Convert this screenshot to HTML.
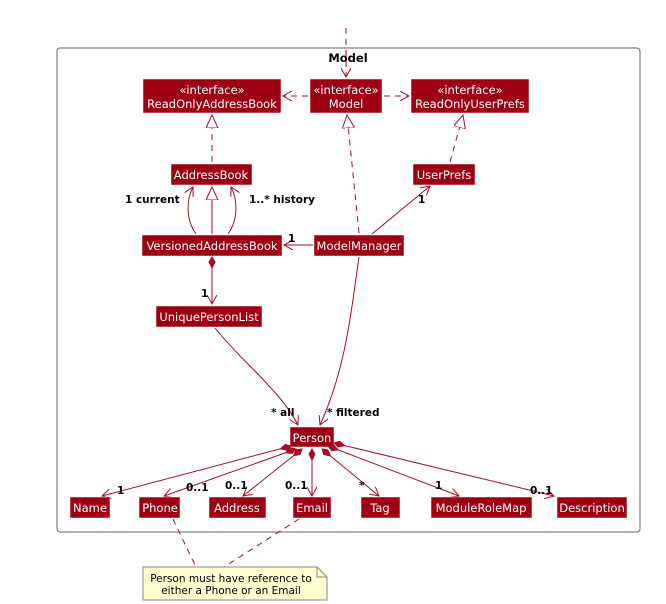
<!DOCTYPE html>
<html><head><style>
html,body{margin:0;padding:0;background:#fff;}
svg{display:block;}
text{font-family:"DejaVu Sans","Liberation Sans",sans-serif;}
.b{fill:#9D0012;stroke:#fff;stroke-width:0.5;}
.t{fill:#fff;font-size:11.5px;text-anchor:middle;}
.l{stroke:#A80D23;stroke-width:1;fill:none;}
.d{stroke:#A80D23;stroke-width:1;fill:none;stroke-dasharray:6,5;}
.m{fill:#000;font-size:10.5px;font-weight:bold;}
</style></head><body>
<svg width="666" height="604" viewBox="0 0 666 604" xmlns="http://www.w3.org/2000/svg">
<defs>
<marker id="o" markerWidth="10" markerHeight="10" refX="9" refY="5" orient="auto" markerUnits="userSpaceOnUse"><path d="M0,0 L9,5 L0,10" fill="none" stroke="#A80D23"/></marker>
<marker id="tri" markerWidth="14" markerHeight="14" refX="13" refY="6" orient="auto" markerUnits="userSpaceOnUse"><path d="M0,0 L13,6 L0,12 Z" fill="#fff" stroke="#A80D23"/></marker>
<marker id="dia" markerWidth="14" markerHeight="10" refX="1" refY="4" orient="auto" markerUnits="userSpaceOnUse"><path d="M1,4 L6,1 L12,4 L6,7 Z" fill="#A80D23" stroke="#A80D23"/></marker>
</defs>
<rect x="57" y="48" width="583" height="484" rx="3" fill="#fff" stroke="#666" stroke-width="1"/>
<text x="348" y="62" font-size="11.5" font-weight="bold" text-anchor="middle">Model</text>
<line class="d" x1="346" y1="28" x2="346" y2="77" marker-end="url(#o)"/>
<!-- interfaces -->
<rect class="b" x="143" y="79" width="138" height="34"/>
<text class="t" x="212" y="94">«interface»</text><text class="t" x="212" y="108">ReadOnlyAddressBook</text>
<rect class="b" x="310" y="79" width="72" height="34"/>
<text class="t" x="346" y="94">«interface»</text><text class="t" x="346" y="108">Model</text>
<rect class="b" x="411" y="79" width="118" height="34"/>
<text class="t" x="470" y="94">«interface»</text><text class="t" x="470" y="108">ReadOnlyUserPrefs</text>
<line class="d" x1="308" y1="96" x2="283" y2="96" marker-end="url(#o)"/>
<line class="d" x1="384" y1="96" x2="409" y2="96" marker-end="url(#o)"/>
<!-- realizations -->
<line class="d" x1="212" y1="162" x2="212" y2="115" marker-end="url(#tri)"/>
<line class="d" x1="359" y1="233" x2="347" y2="115" marker-end="url(#tri)"/>
<line class="d" x1="450" y1="162" x2="463" y2="115" marker-end="url(#tri)"/>
<rect class="b" x="171" y="164" width="81" height="21"/><text class="t" x="211" y="179">AddressBook</text>
<rect class="b" x="413" y="164" width="62" height="21"/><text class="t" x="444" y="179">UserPrefs</text>
<rect class="b" x="142" y="235" width="140" height="21"/><text class="t" x="212" y="250">VersionedAddressBook</text>
<rect class="b" x="314" y="235" width="90" height="21"/><text class="t" x="359" y="250">ModelManager</text>
<!-- versioned to addressbook -->
<line class="l" x1="212" y1="234" x2="212" y2="187" marker-end="url(#tri)"/>
<path class="l" d="M196,234 C186,220 186,200 193,187" marker-end="url(#o)"/>
<path class="l" d="M228,234 C238,220 238,200 231,187" marker-end="url(#o)"/>
<text class="m" x="125" y="203">1 current</text>
<text class="m" x="249" y="203">1..* history</text>
<line class="l" x1="313" y1="245" x2="284" y2="245" marker-end="url(#o)"/>
<text class="m" x="288" y="242">1</text>
<line class="l" x1="372" y1="234" x2="430" y2="186" marker-end="url(#o)"/>
<text class="m" x="418" y="203">1</text>
<!-- uniquepersonlist -->
<line class="l" x1="212" y1="257" x2="212" y2="304" marker-start="url(#dia)" marker-end="url(#o)"/>
<text class="m" x="201" y="297">1</text>
<rect class="b" x="156" y="306" width="106" height="21"/><text class="t" x="209" y="321">UniquePersonList</text>
<path class="l" d="M215,328 C240,360 280,390 298,425" marker-end="url(#o)"/>
<path class="l" d="M359,257 C350,320 345,370 320,425" marker-end="url(#o)"/>
<text class="m" x="271" y="416">* all</text>
<text class="m" x="327" y="416">* filtered</text>
<rect class="b" x="290" y="427" width="44" height="20"/><text class="t" x="312" y="442">Person</text>
<!-- compositions -->
<g>
<line class="l" x1="291" y1="446" x2="102" y2="496" marker-start="url(#dia)" marker-end="url(#o)"/>
<line class="l" x1="296" y1="449" x2="164" y2="496" marker-start="url(#dia)" marker-end="url(#o)"/>
<line class="l" x1="302" y1="449" x2="243" y2="496" marker-start="url(#dia)" marker-end="url(#o)"/>
<line class="l" x1="312" y1="449" x2="312" y2="496" marker-start="url(#dia)" marker-end="url(#o)"/>
<line class="l" x1="322" y1="449" x2="379" y2="496" marker-start="url(#dia)" marker-end="url(#o)"/>
<line class="l" x1="328" y1="446" x2="459" y2="496" marker-start="url(#dia)" marker-end="url(#o)"/>
<line class="l" x1="334" y1="443" x2="554" y2="496" marker-start="url(#dia)" marker-end="url(#o)"/>
</g>
<text class="m" x="117" y="494">1</text>
<text class="m" x="186" y="491">0..1</text>
<text class="m" x="225" y="489">0..1</text>
<text class="m" x="285" y="489">0..1</text>
<text class="m" x="359" y="489">*</text>
<text class="m" x="435" y="489">1</text>
<text class="m" x="530" y="494">0..1</text>
<rect class="b" x="70" y="497" width="40" height="21"/><text class="t" x="90" y="512">Name</text>
<rect class="b" x="139" y="497" width="41" height="21"/><text class="t" x="160" y="512">Phone</text>
<rect class="b" x="209" y="497" width="57" height="21"/><text class="t" x="237" y="512">Address</text>
<rect class="b" x="293" y="497" width="38" height="21"/><text class="t" x="312" y="512">Email</text>
<rect class="b" x="361" y="497" width="39" height="21"/><text class="t" x="380" y="512">Tag</text>
<rect class="b" x="431" y="497" width="101" height="21"/><text class="t" x="481" y="512">ModuleRoleMap</text>
<rect class="b" x="557" y="497" width="70" height="21"/><text class="t" x="592" y="512">Description</text>
<!-- note -->
<line class="d" x1="173" y1="519" x2="196" y2="567"/>
<line class="d" x1="299" y1="519" x2="224" y2="567"/>
<path d="M143,567 L317,567 L327,577 L327,600 L143,600 Z" fill="#FEFECE" stroke="#888" stroke-width="1"/>
<path d="M317,567 L317,577 L327,577" fill="none" stroke="#888"/>
<text x="231" y="582" font-size="10.5" text-anchor="middle">Person must have reference to</text>
<text x="231" y="594" font-size="10.5" text-anchor="middle">either a Phone or an Email</text>
</svg>
</body></html>
